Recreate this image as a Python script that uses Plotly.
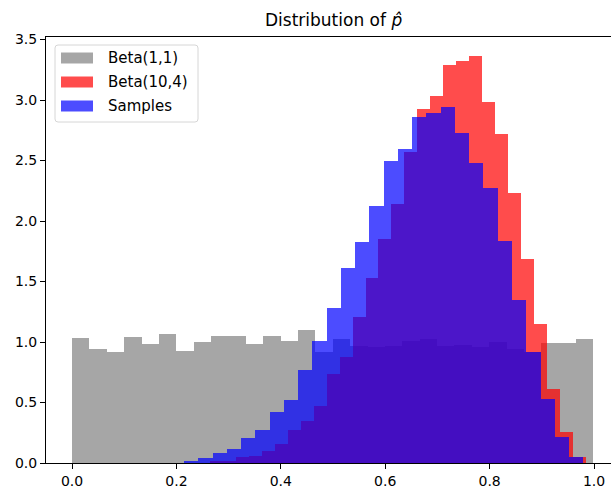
import numpy as np
import plotly.graph_objects as go

# ---- data (histogram densities, 30 bins each) ----
gray_label = "Beta(1,1)"
red_label = "Beta(10,4)"
blue_label = "Samples"

gray_range = (0.0, 0.999)
red_range = (0.2398, 0.9841)
blue_range = (0.1600, 0.9795)

gray_density = [1.030, 0.939, 0.920, 1.044, 0.983, 1.069, 0.928, 1.003, 1.052, 1.052,
                0.983, 1.052, 1.011, 1.099, 0.920, 1.025, 0.967, 0.961, 0.967, 1.011,
                1.022, 0.967, 0.975, 0.961, 1.003, 0.939, 0.920, 0.989, 0.995, 1.022]
red_density = [0.000, 0.010, 0.020, 0.047, 0.058, 0.099, 0.157, 0.270, 0.347, 0.471,
               0.736, 0.879, 1.204, 1.526, 1.851, 2.140, 2.570, 2.923, 3.036, 3.289,
               3.322, 3.364, 2.981, 2.716, 2.228, 1.683, 1.149, 0.612, 0.259, 0.052]
blue_density = [0.000, 0.000, 0.017, 0.039, 0.080, 0.118, 0.204, 0.270, 0.424, 0.518,
                0.769, 1.008, 1.278, 1.614, 1.824, 2.121, 2.496, 2.595, 2.856, 2.895,
                2.942, 2.725, 2.477, 2.275, 1.837, 1.347, 0.920, 0.529, 0.212, 0.047]

x_ticks = [0.0, 0.2, 0.4, 0.6, 0.8, 1.0]
y_ticks = [0.0, 0.5, 1.0, 1.5, 2.0, 2.5, 3.0, 3.5]

# ---- layout geometry (pixels) ----
W, H = 611, 489
L, R, T, B = 46, 611, 37, 463
PW, PH = R - L, B - T
FONT = "DejaVu Sans"


def px_x(p):
    return (p - L) / PW


def px_y(p):
    return (B - p) / PH


def bins(rng, vals):
    edges = np.linspace(rng[0], rng[1], len(vals) + 1)
    centers = (edges[:-1] + edges[1:]) / 2
    width = edges[1] - edges[0]
    return centers, width


fig = go.Figure()
series = [
    (gray_label, gray_range, gray_density, "gray"),
    (red_label, red_range, red_density, "red"),
    (blue_label, blue_range, blue_density, "blue"),
]
for name, rng, vals, col in series:
    c, w = bins(rng, vals)
    fig.add_trace(go.Bar(
        x=c, y=vals, width=w, name=name,
        marker=dict(color=col, opacity=0.7, line=dict(width=0)),
        showlegend=False,
    ))

# ---- manual legend (matplotlib-style) ----
shapes = []
annotations = []
bx0, bx1, by0, by1 = 55, 198, 45, 122
r = 3
x0, x1 = px_x(bx0), px_x(bx1)
y0, y1 = px_y(by1), px_y(by0)
rx, ry = r / PW, r / PH
path = (f"M {x0+rx},{y1} L {x1-rx},{y1} Q {x1},{y1} {x1},{y1-ry} "
        f"L {x1},{y0+ry} Q {x1},{y0} {x1-rx},{y0} L {x0+rx},{y0} "
        f"Q {x0},{y0} {x0},{y0+ry} L {x0},{y1-ry} Q {x0},{y1} {x0+rx},{y1} Z")
shapes.append(dict(type="path", xref="paper", yref="paper", path=path,
                   line=dict(color="#d6d6d6", width=1),
                   fillcolor="rgba(255,255,255,0.8)", layer="above"))
rows = [58, 82, 106]
cols = ["rgba(128,128,128,0.7)", "rgba(255,0,0,0.7)", "rgba(0,0,255,0.7)"]
for (name, _, _, _), cy, fc in zip(series, rows, cols):
    shapes.append(dict(type="rect", xref="paper", yref="paper",
                       x0=px_x(61), x1=px_x(93), y0=px_y(cy + 5.5), y1=px_y(cy - 5.5),
                       line=dict(width=0), fillcolor=fc, layer="above"))
    annotations.append(dict(x=px_x(106), y=px_y(cy), xref="paper", yref="paper",
                            text=name, showarrow=False, xanchor="left", yanchor="middle",
                            font=dict(family=FONT, size=15, color="black")))

annotations.append(dict(x=px_x(333), y=px_y(20), xref="paper", yref="paper",
                        text="Distribution of <i>p\u0302</i>", showarrow=False,
                        xanchor="center", yanchor="middle",
                        font=dict(family=FONT, size=17, color="black")))

fig.update_layout(
    width=W, height=H,
    margin=dict(l=L, r=W - R, t=T, b=H - B, pad=0),
    barmode="overlay",
    bargap=0,
    paper_bgcolor="white", plot_bgcolor="white",
    font=dict(family=FONT, size=14, color="black"),
    shapes=shapes, annotations=annotations,
    xaxis=dict(range=[(L - 72) / 522, (R - 72) / 522], tickvals=x_ticks,
               ticktext=[f"{v:.1f}" for v in x_ticks],
               ticks="outside", ticklen=5, tickwidth=1.1, tickcolor="black",
               showline=True, linecolor="black", linewidth=1.1, mirror=True,
               showgrid=False, zeroline=False, automargin=False,
               tickfont=dict(family=FONT, size=14, color="black")),
    yaxis=dict(range=[0, PH / 121.0], tickvals=y_ticks,
               ticktext=[f"{v:.1f}" for v in y_ticks],
               ticks="outside", ticklen=5, tickwidth=1.1, tickcolor="black",
               showline=True, linecolor="black", linewidth=1.1, mirror=False,
               showgrid=False, zeroline=False, automargin=False,
               tickfont=dict(family=FONT, size=14, color="black")),
)

fig.write_html(
    "out.html",
    config={"displayModeBar": False},
    post_script="document.body.style.margin='0';document.body.style.padding='0';",
)
